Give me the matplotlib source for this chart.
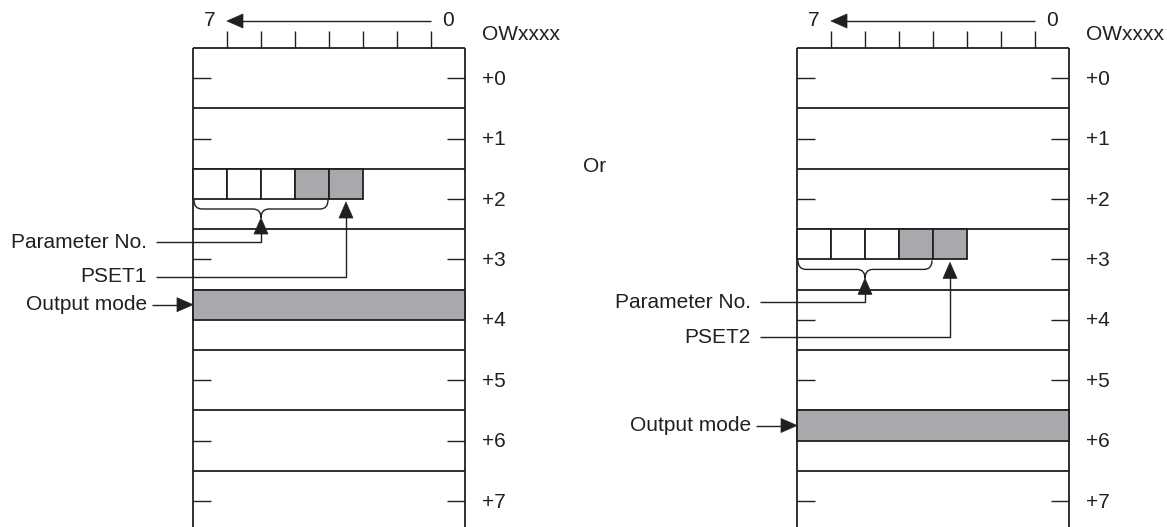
import matplotlib.pyplot as plt
from matplotlib.path import Path
from matplotlib.patches import PathPatch, Rectangle, Polygon

plt.rcParams['font.family'] = ['Liberation Sans', 'DejaVu Sans']

# diagram content
row_labels = ["+0", "+1", "+2", "+3", "+4", "+5", "+6", "+7"]
bit_labels = ["7", "0"]
word_label = "OWxxxx"
cell_bits = [7, 6, 5, 4, 3]
grey_bits = [4, 3]
param_bits = [7, 6, 5, 4]
pset_bit = 3
setting_rows = [2, 3]
pset_names = ["PSET1", "PSET2"]
output_rows = [4, 6]
or_text = "Or"

W, H = 1167, 527
INK = '#231f20'
GREY = '#a7a9ac'
BIT = 34
ROW = 60.4
TOP = 48
FS = 15
LW = 1.3
panel_left = [193, 797]

fig = plt.figure(figsize=(W / 100, H / 100), dpi=100)
ax = fig.add_axes([0, 0, 1, 1])
ax.set_xlim(0, W)
ax.set_ylim(H, 0)
ax.axis('off')


def line(xs, ys, lw=LW):
    ax.plot(xs, ys, color=INK, lw=lw, solid_capstyle='butt', solid_joinstyle='miter')


def head(x, y, d):
    # filled triangle, tip at (x, y); d = direction the arrow points
    L, w = 16, 7
    if d == 'up':
        pts = [(x, y), (x - w, y + L), (x + w, y + L)]
    elif d == 'left':
        pts = [(x, y), (x + L, y - w), (x + L, y + w)]
    else:
        pts = [(x, y), (x - L, y - w), (x - L, y + w)]
    ax.add_patch(Polygon(pts, closed=True, fc=INK, ec=INK, lw=0.5, zorder=5))


def bit_x(x0, b):
    return x0 + (7 - b) * BIT


for x0, srow, pname, orow in zip(panel_left, setting_rows, pset_names, output_rows):
    x1 = x0 + 8 * BIT

    # bit scale on top
    for k in range(1, 8):
        line([x0 + k * BIT, x0 + k * BIT], [31, TOP], lw=1.0)
    line([x0 + 7 * BIT, x0 + BIT + 12], [21, 21], lw=1.0)
    head(x0 + BIT, 21, 'left')
    ax.text(bit_x(x0, 7) + BIT / 2, 20, bit_labels[0], fontsize=FS, color=INK,
            ha='center', va='center')
    ax.text(bit_x(x0, 0) + BIT / 2, 20, bit_labels[1], fontsize=FS, color=INK,
            ha='center', va='center')
    ax.text(x1 + 17, 34, word_label, fontsize=FS, color=INK, ha='left', va='center')

    # box outline
    line([x0, x0], [TOP, H + 5])
    line([x1, x1], [TOP, H + 5])
    line([x0, x1], [TOP, TOP])

    for r, lab in enumerate(row_labels):
        ytop = TOP + r * ROW
        ymid = ytop + ROW / 2
        if r > 0:
            line([x0, x1], [ytop, ytop])
        ax.text(x1 + 17, ymid + 1, lab, fontsize=FS, color=INK, ha='left', va='center')
        if r == orow:
            continue
        if r != srow:
            line([x0, x0 + 18], [ymid, ymid], lw=1.0)
        line([x1 - 18, x1], [ymid, ymid], lw=1.0)

    # output mode band
    ytop = TOP + orow * ROW
    ax.add_patch(Rectangle((x0, ytop), 8 * BIT, ROW / 2, fc=GREY, ec=INK, lw=LW, zorder=3))
    yc = ytop + ROW / 4
    line([x0 - 41, x0 - 14], [yc, yc], lw=1.0)
    head(x0, yc, 'right')
    ax.text(x0 - 46, yc, "Output mode", fontsize=FS, color=INK, ha='right', va='center')

    # setting cells
    ytop = TOP + srow * ROW
    ybot = ytop + ROW / 2
    for b in cell_bits:
        ax.add_patch(Rectangle((bit_x(x0, b), ytop), BIT, ROW / 2,
                               fc=GREY if b in grey_bits else 'white',
                               ec=INK, lw=LW, zorder=3))

    # brace under the parameter number bits
    bx1 = bit_x(x0, param_bits[0]) + 1
    bx2 = bit_x(x0, param_bits[-1]) + BIT - 1
    bm = (bx1 + bx2) / 2
    by = ybot + 1
    rx, ry = 8, 9
    verts = [(bx1, by), (bx1, by + ry), (bx1 + rx, by + ry),
             (bm - rx, by + ry), (bm, by + ry), (bm, by + 2 * ry),
             (bm, by + ry), (bm + rx, by + ry),
             (bx2 - rx, by + ry), (bx2, by + ry), (bx2, by)]
    codes = [Path.MOVETO, Path.CURVE3, Path.CURVE3,
             Path.LINETO, Path.CURVE3, Path.CURVE3,
             Path.CURVE3, Path.CURVE3,
             Path.LINETO, Path.CURVE3, Path.CURVE3]
    ax.add_patch(PathPatch(Path(verts, codes), fc='none', ec=INK, lw=1.0, zorder=4))

    # parameter no. leader
    tip = by + 2 * ry
    yh = ybot + 43
    line([x0 - 37, bm, bm], [yh, yh, tip + 10], lw=1.0)
    head(bm, tip, 'up')
    ax.text(x0 - 46, yh, "Parameter No.", fontsize=FS, color=INK, ha='right', va='center')

    # pset leader
    px = bit_x(x0, pset_bit) + BIT / 2
    tip = ybot + 3
    yh = ybot + 78
    line([x0 - 37, px, px], [yh, yh, tip + 10], lw=1.0)
    head(px, tip, 'up')
    ax.text(x0 - 46, yh, pname, fontsize=FS, color=INK, ha='right', va='center')

ax.text(583, 167, or_text, fontsize=FS, color=INK, ha='left', va='center')

fig.savefig('out.png', dpi=100, facecolor='white')
